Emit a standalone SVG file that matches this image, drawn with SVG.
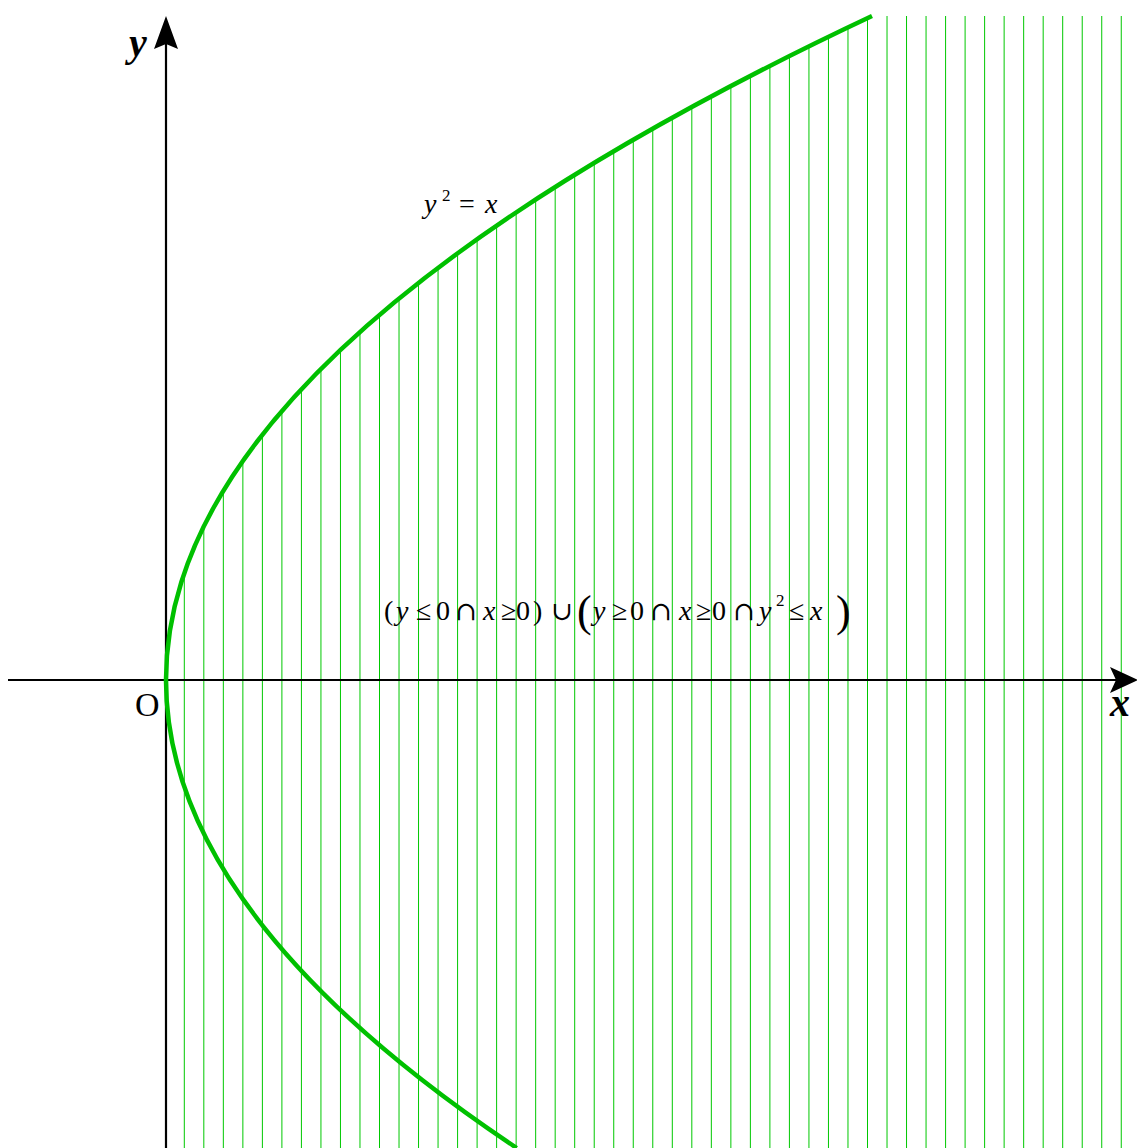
<svg xmlns="http://www.w3.org/2000/svg" width="1137" height="1148" viewBox="0 0 1137 1148">
<style>
.hatch{stroke:#00c800;stroke-width:1;fill:none}
.axis{stroke:#000;stroke-width:2.2;fill:none}
.curve{stroke:#00c000;stroke-width:4.5;fill:none}
.m{font-family:"Liberation Serif","Times New Roman",serif;font-size:28px;fill:#000}
.i{font-style:italic}
.op{font-family:"DejaVu Serif",serif;font-size:26px;fill:#000}
.lbl{font-family:"Liberation Serif","Times New Roman",serif;font-style:italic;font-weight:bold;font-size:40px;fill:#000}
</style>
<rect width="1137" height="1148" fill="#fff"/>
<g id="hatching">
<path class="hatch" d="M184.3 573.1V1148M203.82 526.3V1148M223.34 490.8V1148M242.86 460.9V1148M262.38 434.7V1148M281.9 411V1148M301.42 389.2V1148M320.94 368.9V1148M340.46 349.9V1148M359.98 331.9V1148M379.5 314.9V1148M399.02 298.5V1148M418.54 282.9V1148M438.06 267.8V1148M457.58 253.3V1148M477.1 239.2V1148M496.62 225.6V1148M516.14 212.4V1148M535.66 199.5V1148M555.18 187V1148M574.7 174.8V1148M594.22 162.9V1148M613.74 151.2V1148M633.26 139.8V1148M652.78 128.6V1148M672.3 117.7V1148M691.82 107V1148M711.34 96.4V1148M730.86 86.1V1148M750.38 75.9V1148M769.9 65.9V1148M789.42 56V1148M808.94 46.3V1148M828.46 36.8V1148M847.98 27.4V1148M867.5 18.1V1148M887.02 16V1148M906.54 16V1148M926.06 16V1148M945.58 16V1148M965.1 16V1148M984.62 16V1148M1004.14 16V1148M1023.66 16V1148M1043.18 16V1148M1062.7 16V1148M1082.22 16V1148M1101.74 16V1148M1121.26 16V1148"/>
</g>
<g id="axes">
<line class="axis" x1="8" y1="680" x2="1118" y2="680"/>
<polygon points="1138,680 1110,667 1116,680 1110,693" fill="#000"/>
<line class="axis" x1="166" y1="1148" x2="166" y2="38"/>
<polygon points="166,16 154,49 166,44 178,49" fill="#000"/>
</g>
<g id="parabola">
<path class="curve" d="M872 16Q-331.6 582 516.7 1148"/>
</g>
<g id="labels">
<text class="lbl" x="129" y="56">y</text>
<text class="lbl" x="1110" y="716">x</text>
<text class="m" x="135" y="716" style="font-size:34px">O</text>
<text class="m i" x="424" y="213">y</text>
<text class="m" x="442" y="201" style="font-size:17px">2</text>
<text class="m" x="459" y="213">=</text>
<text class="m i" x="485" y="213">x</text>
</g>
<g id="formula">
<text class="m" x="384" y="620">(</text>
<text class="m i" x="396" y="620">y</text>
<text class="m" x="416" y="620">≤</text>
<text class="m" x="436" y="620">0</text>
<text class="op" x="455" y="620">∩</text>
<text class="m i" x="483" y="620">x</text>
<text class="m" x="501" y="620">≥</text>
<text class="m" x="516" y="620">0</text>
<text class="m" x="533" y="620">)</text>
<text class="op" x="551" y="620">∪</text>
<text class="m" x="577" y="626" style="font-size:44px">(</text>
<text class="m i" x="593" y="620">y</text>
<text class="m" x="612" y="620">≥</text>
<text class="m" x="630" y="620">0</text>
<text class="op" x="650" y="620">∩</text>
<text class="m i" x="679" y="620">x</text>
<text class="m" x="696" y="620">≥</text>
<text class="m" x="712" y="620">0</text>
<text class="op" x="733" y="620">∩</text>
<text class="m i" x="759" y="620">y</text>
<text class="m" x="776" y="606" style="font-size:17px">2</text>
<text class="m" x="789" y="620">≤</text>
<text class="m i" x="810" y="620">x</text>
<text class="m" x="836" y="626" style="font-size:44px">)</text>
</g>
</svg>
